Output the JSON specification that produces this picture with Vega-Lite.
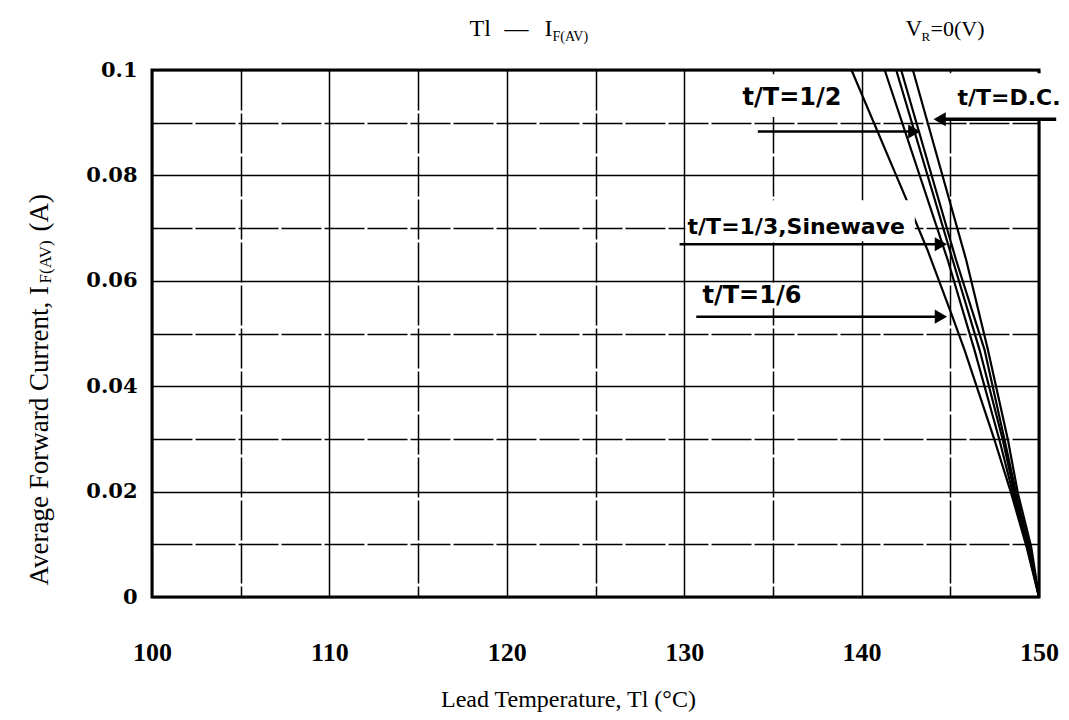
{
  "$schema": "https://vega.github.io/schema/vega-lite/v6.json",
  "width": 887,
  "height": 527,
  "autosize": "none",
  "padding": {"left": 152, "top": 70, "right": 30, "bottom": 123},
  "background": "white",
  "config": {
    "view": {"stroke": "black", "strokeWidth": 3},
    "axis": {"grid": true, "gridColor": "#000", "gridWidth": 1.5, "gridOpacity": 1, "domain": false, "ticks": false, "labelFlush": false, "labelOverlap": false, "labelColor": "black", "titleColor": "black"}
  },
  "datasets": {
    "curves": [
      {"series": "t/T=1/6", "T": 139.43, "I": 0.1},
      {"series": "t/T=1/6", "T": 142.54, "I": 0.0753},
      {"series": "t/T=1/6", "T": 143.72, "I": 0.0658},
      {"series": "t/T=1/6", "T": 145.13, "I": 0.0531},
      {"series": "t/T=1/6", "T": 145.80, "I": 0.0469},
      {"series": "t/T=1/6", "T": 147.49, "I": 0.0298},
      {"series": "t/T=1/6", "T": 148.43, "I": 0.0197},
      {"series": "t/T=1/6", "T": 149.30, "I": 0.0095},
      {"series": "t/T=1/6", "T": 150.0, "I": 0.0},
      {"series": "t/T=1/3", "T": 141.30, "I": 0.1},
      {"series": "t/T=1/3", "T": 144.86, "I": 0.0639},
      {"series": "t/T=1/3", "T": 146.36, "I": 0.0469},
      {"series": "t/T=1/3", "T": 147.77, "I": 0.0298},
      {"series": "t/T=1/3", "T": 148.53, "I": 0.0197},
      {"series": "t/T=1/3", "T": 149.35, "I": 0.0095},
      {"series": "t/T=1/3", "T": 150.0, "I": 0.0},
      {"series": "Sinewave", "T": 141.95, "I": 0.1},
      {"series": "Sinewave", "T": 145.14, "I": 0.0639},
      {"series": "Sinewave", "T": 146.65, "I": 0.0469},
      {"series": "Sinewave", "T": 147.96, "I": 0.0298},
      {"series": "Sinewave", "T": 148.62, "I": 0.0197},
      {"series": "Sinewave", "T": 149.41, "I": 0.0095},
      {"series": "Sinewave", "T": 150.0, "I": 0.0},
      {"series": "t/T=1/2", "T": 142.23, "I": 0.1},
      {"series": "t/T=1/2", "T": 145.33, "I": 0.0639},
      {"series": "t/T=1/2", "T": 146.93, "I": 0.0469},
      {"series": "t/T=1/2", "T": 148.06, "I": 0.0298},
      {"series": "t/T=1/2", "T": 148.71, "I": 0.0197},
      {"series": "t/T=1/2", "T": 149.46, "I": 0.0095},
      {"series": "t/T=1/2", "T": 150.0, "I": 0.0},
      {"series": "t/T=D.C.", "T": 142.89, "I": 0.1},
      {"series": "t/T=D.C.", "T": 145.90, "I": 0.0639},
      {"series": "t/T=D.C.", "T": 147.12, "I": 0.0469},
      {"series": "t/T=D.C.", "T": 148.25, "I": 0.0298},
      {"series": "t/T=D.C.", "T": 148.81, "I": 0.0197},
      {"series": "t/T=D.C.", "T": 149.56, "I": 0.0095},
      {"series": "t/T=D.C.", "T": 150.0, "I": 0.0}
    ]
  },
  "layer": [
    {
      "data": {"name": "curves"},
      "mark": {"type": "line", "color": "black", "strokeWidth": 2.2},
      "encoding": {
        "x": {
          "field": "T", "type": "quantitative",
          "scale": {"domain": [100, 150], "nice": false, "zero": false},
          "axis": {
            "values": [100, 105, 110, 115, 120, 125, 130, 135, 140, 145, 150],
            "format": "d",
            "labelExpr": "datum.value % 10 === 0 ? datum.label : ''",
            "labelFont": "Liberation Serif", "labelFontSize": 26, "labelFontWeight": "bold",
            "labelPadding": 42,
            "gridDash": {"condition": {"test": "datum.value % 10 !== 0", "value": [40, 3]}, "value": []},
            "title": "Lead Temperature, Tl (°C)",
            "titleFont": "Liberation Serif", "titleFontSize": 24, "titleFontWeight": "normal",
            "titlePadding": 22, "titleX": 416
          }
        },
        "y": {
          "field": "I", "type": "quantitative",
          "scale": {"domain": [0, 0.1], "nice": false},
          "axis": {
            "values": [0, 0.01, 0.02, 0.03, 0.04, 0.05, 0.06, 0.07, 0.08, 0.09, 0.1],
            "labelExpr": "round(datum.value * 100) % 2 === 0 ? format(datum.value, '~g') : ''",
            "labelFont": "DejaVu Serif", "labelFontSize": 21, "labelFontWeight": "bold",
            "labelPadding": 15,
            "gridDash": {"condition": {"test": "round(datum.value * 100) % 2 !== 0", "value": [40, 3]}, "value": []},
            "title": null
          }
        },
        "detail": {"field": "series"}
      }
    },
    {
      "data": {"values": [{}]},
      "mark": {"type": "rect", "fill": "white"},
      "encoding": {"x": {"datum": 130.07}, "x2": {"datum": 143.0}, "y": {"datum": 0.0753}, "y2": {"datum": 0.0675}}
    },
    {
      "data": {"values": [{}]},
      "mark": {"type": "rect", "fill": "white"},
      "encoding": {"x": {"datum": 133.12}, "x2": {"datum": 139.32}, "y": {"datum": 0.0992}, "y2": {"datum": 0.0911}}
    },
    {
      "data": {"values": [{}]},
      "mark": {"type": "rect", "fill": "white"},
      "encoding": {"x": {"datum": 130.86}, "x2": {"datum": 136.94}, "y": {"datum": 0.0592}, "y2": {"datum": 0.0548}}
    },
    {
      "data": {"values": [{}]},
      "mark": {"type": "rect", "fill": "white"},
      "encoding": {"x": {"datum": 144.67}, "x2": {"datum": 151.49}, "y": {"datum": 0.0994}, "y2": {"datum": 0.0909}}
    },
    {
      "data": {"values": [{}]},
      "mark": {"type": "text", "text": "t/T=1/2", "font": "DejaVu Sans", "fontWeight": "bold", "fontSize": 24, "align": "left", "baseline": "middle", "color": "black"},
      "encoding": {"x": {"datum": 133.29}, "y": {"datum": 0.0946}}
    },
    {
      "data": {"values": [{}]},
      "mark": {"type": "text", "text": "t/T=D.C.", "font": "DejaVu Sans", "fontWeight": "bold", "fontSize": 22, "align": "left", "baseline": "middle", "color": "black"},
      "encoding": {"x": {"datum": 145.4}, "y": {"datum": 0.0946}}
    },
    {
      "data": {"values": [{}]},
      "mark": {"type": "text", "text": "t/T=1/3,Sinewave", "font": "DejaVu Sans", "fontWeight": "bold", "fontSize": 22, "align": "left", "baseline": "middle", "color": "black"},
      "encoding": {"x": {"datum": 130.19}, "y": {"datum": 0.0703}}
    },
    {
      "data": {"values": [{}]},
      "mark": {"type": "text", "text": "t/T=1/6", "font": "DejaVu Sans", "fontWeight": "bold", "fontSize": 24, "align": "left", "baseline": "middle", "color": "black"},
      "encoding": {"x": {"datum": 131.03}, "y": {"datum": 0.0572}}
    },
    {
      "data": {"values": [{}]},
      "mark": {"type": "rule", "color": "black", "strokeWidth": 2.5},
      "encoding": {"x": {"datum": 134.15}, "x2": {"datum": 142.97}, "y": {"datum": 0.08834}}
    },
    {
      "data": {"values": [{}]},
      "mark": {"type": "point", "shape": "triangle-right", "filled": true, "color": "black", "opacity": 1, "size": 200},
      "encoding": {"x": {"datum": 142.97}, "y": {"datum": 0.08834}}
    },
    {
      "data": {"values": [{}]},
      "mark": {"type": "rule", "color": "black", "strokeWidth": 3.5},
      "encoding": {"x": {"datum": 144.4}, "x2": {"datum": 150.97}, "y": {"datum": 0.09065}}
    },
    {
      "data": {"values": [{}]},
      "mark": {"type": "point", "shape": "triangle-left", "filled": true, "color": "black", "opacity": 1, "size": 200},
      "encoding": {"x": {"datum": 144.4}, "y": {"datum": 0.09065}}
    },
    {
      "data": {"values": [{}]},
      "mark": {"type": "rule", "color": "black", "strokeWidth": 2.5},
      "encoding": {"x": {"datum": 129.74}, "x2": {"datum": 144.47}, "y": {"datum": 0.06693}}
    },
    {
      "data": {"values": [{}]},
      "mark": {"type": "point", "shape": "triangle-right", "filled": true, "color": "black", "opacity": 1, "size": 200},
      "encoding": {"x": {"datum": 144.47}, "y": {"datum": 0.06693}}
    },
    {
      "data": {"values": [{}]},
      "mark": {"type": "rule", "color": "black", "strokeWidth": 2.5},
      "encoding": {"x": {"datum": 130.68}, "x2": {"datum": 144.47}, "y": {"datum": 0.05319}}
    },
    {
      "data": {"values": [{}]},
      "mark": {"type": "point", "shape": "triangle-right", "filled": true, "color": "black", "opacity": 1, "size": 200},
      "encoding": {"x": {"datum": 144.47}, "y": {"datum": 0.05319}}
    },
    {
      "data": {"values": [{}]},
      "mark": {"type": "text", "text": "Average Forward Current, I", "font": "Liberation Serif", "fontSize": 27, "angle": 270, "align": "left", "baseline": "middle", "color": "black"},
      "encoding": {"x": {"datum": 93.66}, "y": {"datum": 0.0022}}
    },
    {
      "data": {"values": [{}]},
      "mark": {"type": "text", "text": "F(AV)", "font": "Liberation Serif", "fontSize": 17, "angle": 270, "align": "left", "baseline": "middle", "dx": 302, "dy": 6, "color": "black"},
      "encoding": {"x": {"datum": 93.66}, "y": {"datum": 0.0022}}
    },
    {
      "data": {"values": [{}]},
      "mark": {"type": "text", "text": "(A)", "font": "Liberation Serif", "fontSize": 27, "angle": 270, "align": "left", "baseline": "middle", "dx": 354, "color": "black"},
      "encoding": {"x": {"datum": 93.66}, "y": {"datum": 0.0022}}
    },
    {
      "data": {"values": [{}]},
      "mark": {"type": "text", "text": "Tl", "font": "Liberation Serif", "fontSize": 24, "align": "left", "baseline": "alphabetic", "color": "black"},
      "encoding": {"x": {"datum": 117.9}, "y": {"datum": 0.10645}}
    },
    {
      "data": {"values": [{}]},
      "mark": {"type": "text", "text": "—", "font": "Liberation Serif", "fontSize": 24, "align": "left", "baseline": "alphabetic", "dx": 35, "color": "black"},
      "encoding": {"x": {"datum": 117.9}, "y": {"datum": 0.10645}}
    },
    {
      "data": {"values": [{}]},
      "mark": {"type": "text", "text": "I", "font": "Liberation Serif", "fontSize": 24, "align": "left", "baseline": "alphabetic", "dx": 75, "color": "black"},
      "encoding": {"x": {"datum": 117.9}, "y": {"datum": 0.10645}}
    },
    {
      "data": {"values": [{}]},
      "mark": {"type": "text", "text": "F(AV)", "font": "Liberation Serif", "fontSize": 14, "align": "left", "baseline": "alphabetic", "dx": 83, "dy": 5, "color": "black"},
      "encoding": {"x": {"datum": 117.9}, "y": {"datum": 0.10645}}
    },
    {
      "data": {"values": [{}]},
      "mark": {"type": "text", "text": "V", "font": "Liberation Serif", "fontSize": 23, "align": "left", "baseline": "alphabetic", "dx": 436, "color": "black"},
      "encoding": {"x": {"datum": 117.9}, "y": {"datum": 0.10645}}
    },
    {
      "data": {"values": [{}]},
      "mark": {"type": "text", "text": "R", "font": "Liberation Serif", "fontSize": 13, "align": "left", "baseline": "alphabetic", "dx": 452, "dy": 5, "color": "black"},
      "encoding": {"x": {"datum": 117.9}, "y": {"datum": 0.10645}}
    },
    {
      "data": {"values": [{}]},
      "mark": {"type": "text", "text": "=0(V)", "font": "Liberation Serif", "fontSize": 22, "align": "left", "baseline": "alphabetic", "dx": 461, "color": "black"},
      "encoding": {"x": {"datum": 117.9}, "y": {"datum": 0.10645}}
    }
  ]
}
